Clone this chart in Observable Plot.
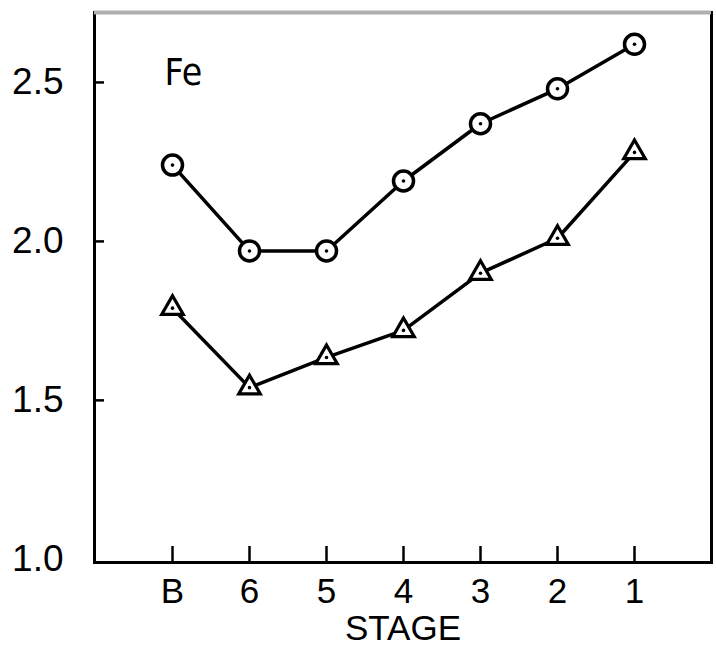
<!DOCTYPE html>
<html><head><meta charset="utf-8">
<script src="https://cdn.jsdelivr.net/npm/d3@7"></script>
<script src="https://cdn.jsdelivr.net/npm/@observablehq/plot@0.6"></script>
<style>body{margin:0;background:#fff}</style>
</head><body><div id="chart"></div>
<script>
const stages = ["B", "6", "5", "4", "3", "2", "1"];
const circleValues = [2.24, 1.97, 1.97, 2.19, 2.37, 2.48, 2.62];
const triangleValues = [1.79, 1.54, 1.635, 1.72, 1.90, 2.01, 2.28];
const yTicks = [1.0, 1.5, 2.0, 2.5];
const yDomain = [0.99, 2.72];
const elementLabel = "Fe";
const xTitle = "STAGE";

const circles = stages.map((s, i) => ({stage: s, value: circleValues[i], series: "circle"}));
const triangles = stages.map((s, i) => ({stage: s, value: triangleValues[i], series: "triangle"}));
const data = [...circles, ...triangles];

const W = 716, H = 650, mL = 94, mR = 5, mT = 12, mB = 88;
const frameW = W - mL - mR, frameH = H - mT - mB;
const xTickLen = 16, yTickLen = 10;

const chart = Plot.plot({
  width: W, height: H,
  marginLeft: mL, marginRight: mR, marginTop: mT, marginBottom: mB,
  style: {fontFamily: "'Liberation Sans', Arial, sans-serif", fontSize: "35px", color: "#000", background: "#fff"},
  x: {type: "point", domain: stages, padding: 0.97},
  y: {domain: yDomain},
  marks: [
    Plot.frame({stroke: "#000", strokeWidth: 3}),
    Plot.ruleY([yDomain[1]], {stroke: "#b0b0b0", strokeWidth: 4}),
    Plot.ruleX(stages, {x: d => d, insetTop: frameH - xTickLen, stroke: "#000", strokeWidth: 2.5}),
    Plot.ruleY(yTicks.slice(1), {y: d => d, insetRight: frameW - yTickLen, stroke: "#000", strokeWidth: 2.5}),
    Plot.axisX({tickSize: 0, tickPadding: 16, label: null, fontSize: 35}),
    Plot.axisY({ticks: yTicks, tickSize: 0, tickPadding: 31, tickFormat: d3.format(".1f"), label: null, fontSize: 37}),
    Plot.text([xTitle], {frameAnchor: "bottom", lineAnchor: "top", dy: 53, fontSize: 35}),
    Plot.text([elementLabel], {frameAnchor: "top-left", textAnchor: "start", lineAnchor: "top", dx: 70, dy: 46,
      fontSize: 37, fontFamily: "'Liberation Sans Narrow', 'DejaVu Sans Condensed', Arial, sans-serif"}),
    Plot.line(data, {x: "stage", y: "value", z: "series", stroke: "#000", strokeWidth: 3.5}),
    Plot.dot(circles, {x: "stage", y: "value", r: 10, fill: "#fff", stroke: "#000", strokeWidth: 3.5}),
    Plot.dot(triangles, {x: "stage", y: "value", symbol: "triangle", r: 8, fill: "#fff", stroke: "#000", strokeWidth: 3.2}),
    Plot.dot(data, {x: "stage", y: "value", r: 1.8, fill: "#000"})
  ]
});
document.getElementById("chart").append(chart);
</script>
</body></html>
